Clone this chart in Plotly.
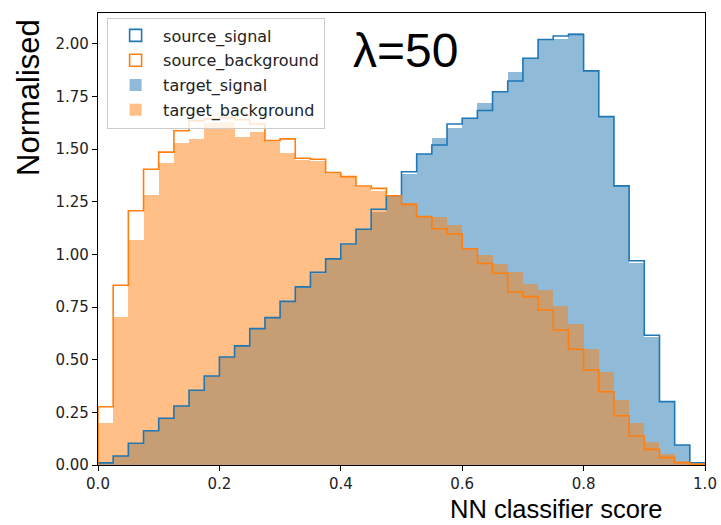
import numpy as np
import plotly.graph_objects as go

# ---- data (40 bins on [0, 1]) ----
n_bins = 40
edges = np.linspace(0.0, 1.0, n_bins + 1)

source_signal = [0.010, 0.043, 0.103, 0.163, 0.222, 0.280, 0.355, 0.423, 0.513, 0.566,
                 0.648, 0.700, 0.777, 0.846, 0.915, 0.979, 1.050, 1.120, 1.215, 1.279,
                 1.393, 1.477, 1.520, 1.620, 1.647, 1.684, 1.773, 1.824, 1.932, 2.021,
                 2.038, 2.045, 1.872, 1.655, 1.326, 0.970, 0.616, 0.301, 0.095, 0.011]

target_signal = [0.010, 0.043, 0.103, 0.163, 0.222, 0.280, 0.355, 0.423, 0.513, 0.566,
                 0.648, 0.700, 0.776, 0.846, 0.905, 0.977, 1.045, 1.115, 1.200, 1.275,
                 1.382, 1.477, 1.552, 1.600, 1.647, 1.721, 1.773, 1.866, 1.932, 2.022,
                 2.024, 2.054, 1.872, 1.655, 1.327, 0.958, 0.607, 0.301, 0.095, 0.011]

source_background = [0.277, 0.854, 1.208, 1.405, 1.486, 1.588, 1.636, 1.645, 1.650, 1.640,
                     1.620, 1.541, 1.549, 1.457, 1.452, 1.389, 1.370, 1.325, 1.314, 1.279,
                     1.238, 1.180, 1.122, 1.097, 1.027, 0.957, 0.911, 0.822, 0.800, 0.736,
                     0.641, 0.550, 0.451, 0.348, 0.234, 0.138, 0.074, 0.035, 0.011, 0.004]

target_background = [0.201, 0.705, 1.069, 1.284, 1.433, 1.531, 1.547, 1.625, 1.630, 1.557,
                     1.583, 1.536, 1.481, 1.449, 1.446, 1.382, 1.367, 1.319, 1.303, 1.277,
                     1.245, 1.180, 1.180, 1.140, 1.030, 0.998, 0.953, 0.918, 0.860, 0.831,
                     0.755, 0.668, 0.550, 0.443, 0.309, 0.198, 0.111, 0.052, 0.020, 0.005]

x_ticks = [0.0, 0.2, 0.4, 0.6, 0.8, 1.0]
y_ticks = [0.0, 0.25, 0.5, 0.75, 1.0, 1.25, 1.5, 1.75, 2.0]

BLUE = "#1f77b4"
ORANGE = "#ff7f0e"
BLUE_A = "rgba(31,119,180,0.5)"
ORANGE_A = "rgba(255,127,14,0.5)"

centers = (edges[:-1] + edges[1:]) / 2
width = edges[1] - edges[0]


def step_xy(values):
    xs = [edges[0]] + list(edges) + [edges[-1]]
    ys = [0.0] + list(values) + [values[-1], 0.0]
    return xs, ys


fig = go.Figure()

# filled target histograms
fig.add_trace(go.Bar(x=centers, y=target_signal, width=width,
                     marker=dict(color=BLUE_A, line=dict(width=0)),
                     name="target_signal", legendgroup="c", legendrank=3))
fig.add_trace(go.Bar(x=centers, y=target_background, width=width,
                     marker=dict(color=ORANGE_A, line=dict(width=0)),
                     name="target_background", legendgroup="d", legendrank=4))

# step outlines for source histograms
for vals, col, nm, grp, rk in [(source_signal, BLUE, "source_signal", "a", 1),
                                (source_background, ORANGE, "source_background", "b", 2)]:
    xs, ys = step_xy(vals)
    fig.add_trace(go.Scatter(x=xs, y=ys, mode="lines", line=dict(color=col, width=1.6, shape="hv"),
                             showlegend=False, hoverinfo="skip", legendgroup=grp))
    # legend proxy: outlined rectangle
    fig.add_trace(go.Bar(x=[None], y=[None], name=nm, legendgroup=grp, legendrank=rk,
                         marker=dict(color="rgba(255,255,255,0)", line=dict(color=col, width=1.6))))

fig.add_annotation(x=0.506, y=1.97, xref="x", yref="y", text="λ=50", showarrow=False,
                   font=dict(family="Liberation Sans, Arial", size=48, color="black"))

axis_common = dict(showline=True, linecolor="black", linewidth=1.2, mirror=True,
                   ticks="outside", ticklen=5, tickwidth=1.2, tickcolor="black",
                   showgrid=False, zeroline=False, automargin=False,
                   tickfont=dict(family="DejaVu Sans", size=15, color="#222"))

fig.update_layout(
    width=721, height=525,
    margin=dict(l=98, r=16, t=13, b=60, autoexpand=False),
    paper_bgcolor="white", plot_bgcolor="white",
    barmode="overlay", bargap=0,
    showlegend=True,
    legend=dict(x=0.015, y=0.99, xanchor="left", yanchor="top",
                bgcolor="rgba(255,255,255,0.8)", bordercolor="#cccccc", borderwidth=1,
                font=dict(family="DejaVu Sans", size=16, color="#222"),
                itemwidth=45,
                traceorder="grouped", tracegroupgap=1),
    xaxis=dict(range=[0, 1], tickvals=x_ticks, ticktext=[f"{v:.1f}" for v in x_ticks], **axis_common),
    yaxis=dict(range=[0, 2.147], tickvals=y_ticks, ticktext=[f"{v:.2f}" for v in y_ticks], **axis_common),
)

fig.add_annotation(x=0.934, y=0, xref="paper", yref="paper", xanchor="right", yanchor="middle",
                   yshift=-44, text="NN classifier score", showarrow=False,
                   font=dict(family="Liberation Sans, Arial", size=25.5, color="black"))
fig.add_annotation(x=0, y=1.0, xref="paper", yref="paper", xanchor="right", yanchor="top",
                   xshift=-50, yshift=-4, text="Normalised", showarrow=False, textangle=-90,
                   font=dict(family="Liberation Sans, Arial", size=31, color="black"))

fig.write_html("out.html")
